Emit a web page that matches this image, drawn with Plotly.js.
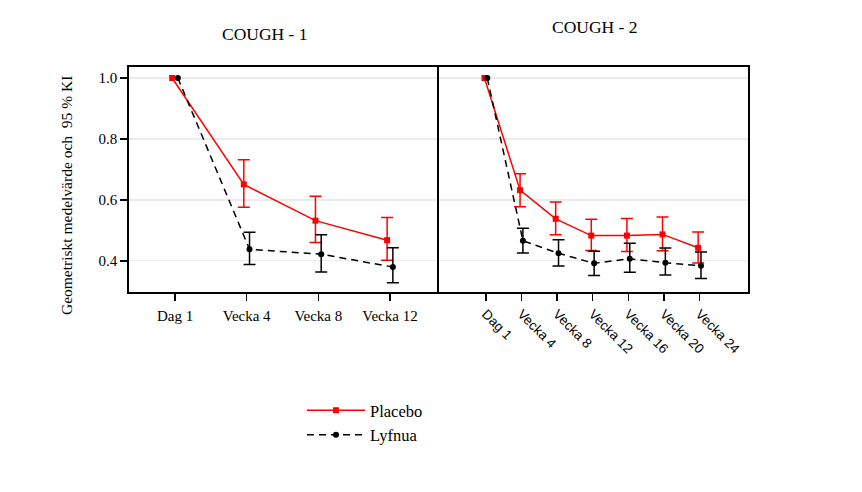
<!DOCTYPE html>
<html>
<head>
<meta charset="utf-8">
<script src="https://cdn.plot.ly/plotly-3.0.1.min.js"></script>
<style>html,body{margin:0;padding:0;background:#fff}#chart{width:862px;height:492px}</style>
</head>
<body>
<div id="chart"></div>
<script>
// ---- data ----
var categories1 = ['Dag 1', 'Vecka 4', 'Vecka 8', 'Vecka 12'];
var categories2 = ['Dag 1', 'Vecka 4', 'Vecka 8', 'Vecka 12', 'Vecka 16', 'Vecka 20', 'Vecka 24'];
var panelTitles = ['COUGH - 1', 'COUGH - 2'];
var seriesNames = ['Placebo', 'Lyfnua'];
var yTickVals = [0.4, 0.6, 0.8, 1.0];
var yTitle = 'Geometriskt medelvärde och  95 % KI';

var placebo1      = [1.0, 0.651, 0.532, 0.468];
var placebo1Upper = [null, 0.732, 0.612, 0.542];
var placebo1Lower = [null, 0.576, 0.460, 0.402];
var lyfnua1       = [1.0, 0.438, 0.422, 0.380];
var lyfnua1Upper  = [null, 0.494, 0.486, 0.443];
var lyfnua1Lower  = [null, 0.388, 0.364, 0.328];

var placebo2      = [1.0, 0.632, 0.538, 0.483, 0.483, 0.487, 0.443];
var placebo2Upper = [null, 0.686, 0.593, 0.537, 0.539, 0.544, 0.495];
var placebo2Lower = [null, 0.578, 0.486, 0.434, 0.431, 0.433, 0.393];
var lyfnua2       = [1.0, 0.466, 0.425, 0.392, 0.407, 0.394, 0.384];
var lyfnua2Upper  = [null, 0.507, 0.469, 0.432, 0.458, 0.442, 0.429];
var lyfnua2Lower  = [null, 0.426, 0.383, 0.352, 0.363, 0.354, 0.342];

// ---- helpers ----
var DODGE = 0.04;
function xs(cats, off) { return cats.map(function (c, i) { return i + off; }); }
function plus(v, up) { return v.map(function (y, i) { return up[i] == null ? NaN : up[i] - y; }); }
function minus(v, lo) { return v.map(function (y, i) { return lo[i] == null ? NaN : y - lo[i]; }); }

var RED = '#ff0000', BLACK = '#000000';
var serif = 'Liberation Serif, Times New Roman, serif';
var sans = 'Liberation Sans, Arial, sans-serif';

function placeboTrace(cats, v, up, lo, xa, ya, show) {
  return {
    type: 'scatter', mode: 'lines+markers', name: seriesNames[0],
    x: xs(cats, -DODGE), y: v, xaxis: xa, yaxis: ya, showlegend: show,
    line: {color: RED, width: 1.5},
    marker: {symbol: 'square', size: 6, color: RED},
    error_y: {type: 'data', symmetric: false, array: plus(v, up), arrayminus: minus(v, lo),
              color: RED, thickness: 1.5, width: 6}
  };
}
function lyfnuaTrace(cats, v, up, lo, xa, ya, show) {
  return {
    type: 'scatter', mode: 'lines+markers', name: seriesNames[1],
    x: xs(cats, DODGE), y: v, xaxis: xa, yaxis: ya, showlegend: show,
    line: {color: BLACK, width: 1.5, dash: '7px,5px'},
    marker: {symbol: 'circle', size: 6, color: BLACK},
    error_y: {type: 'data', symmetric: false, array: plus(v, up), arrayminus: minus(v, lo),
              color: BLACK, thickness: 1.5, width: 6}
  };
}

var data = [
  placeboTrace(categories1, placebo1, placebo1Upper, placebo1Lower, 'x', 'y', true),
  lyfnuaTrace(categories1, lyfnua1, lyfnua1Upper, lyfnua1Lower, 'x', 'y', true),
  placeboTrace(categories2, placebo2, placebo2Upper, placebo2Lower, 'x2', 'y2', false),
  lyfnuaTrace(categories2, lyfnua2, lyfnua2Upper, lyfnua2Lower, 'x2', 'y2', false)
];

var yCommon = {
  range: [0.298, 1.036], tickvals: yTickVals, tickformat: '.1f',
  showgrid: true, gridcolor: '#ebebeb', gridwidth: 1.2, zeroline: false,
  showline: true, linecolor: BLACK, linewidth: 1.8, mirror: true
};
var layout = {
  width: 862, height: 492,
  paper_bgcolor: '#ffffff', plot_bgcolor: '#ffffff',
  margin: {l: 129, r: 114, t: 67, b: 200},
  font: {family: serif, size: 15, color: BLACK},
  xaxis: {
    domain: [0, 308 / 619], range: [-0.642, 3.656],
    tickvals: categories1.map(function (c, i) { return i; }), ticktext: categories1,
    ticks: 'outside', ticklen: 7, tickwidth: 1.5, tickcolor: BLACK, ticklabelstandoff: 2,
    tickfont: {family: serif, size: 15, color: BLACK},
    showgrid: false, zeroline: false,
    showline: true, linecolor: BLACK, linewidth: 1.8, mirror: true
  },
  xaxis2: {
    domain: [310 / 619, 1], range: [-1.316, 7.36],
    tickvals: categories2.map(function (c, i) { return i; }), ticktext: categories2,
    tickangle: 45,
    ticks: 'outside', ticklen: 7, tickwidth: 1.5, tickcolor: BLACK,
    tickfont: {family: sans, size: 13.5, color: BLACK},
    showgrid: false, zeroline: false, anchor: 'y2',
    showline: true, linecolor: BLACK, linewidth: 1.8, mirror: true
  },
  yaxis: Object.assign({}, yCommon, {
    ticks: 'outside', ticklen: 7, tickwidth: 1.5, tickcolor: BLACK,
    tickfont: {family: serif, size: 15, color: BLACK}
  }),
  yaxis2: Object.assign({}, yCommon, {anchor: 'x2', showticklabels: false, ticks: ''}),
  showlegend: true,
  legend: {
    x: 0.2795, y: -0.4489, xanchor: 'left', yanchor: 'top',
    font: {family: serif, size: 16.5, color: BLACK},
    bgcolor: 'rgba(0,0,0,0)', traceorder: 'normal', itemwidth: 58, tracegroupgap: 0
  },
  annotations: [
    {text: panelTitles[0], xref: 'paper', yref: 'paper', x: 0.2205, y: 1.1467,
     xanchor: 'center', yanchor: 'middle', showarrow: false, font: {family: serif, size: 17.5, color: BLACK}},
    {text: panelTitles[1], xref: 'paper', yref: 'paper', x: 0.7536, y: 1.1778,
     xanchor: 'center', yanchor: 'middle', showarrow: false, font: {family: serif, size: 17.5, color: BLACK}},
    {text: yTitle, xref: 'paper', yref: 'paper', x: -0.1018, y: 0.431, textangle: -90,
     xanchor: 'center', yanchor: 'middle', showarrow: false, font: {family: serif, size: 15.5, color: BLACK}}
  ]
};

Plotly.newPlot('chart', data, layout, {displayModeBar: false, staticPlot: true});
</script>
</body>
</html>
